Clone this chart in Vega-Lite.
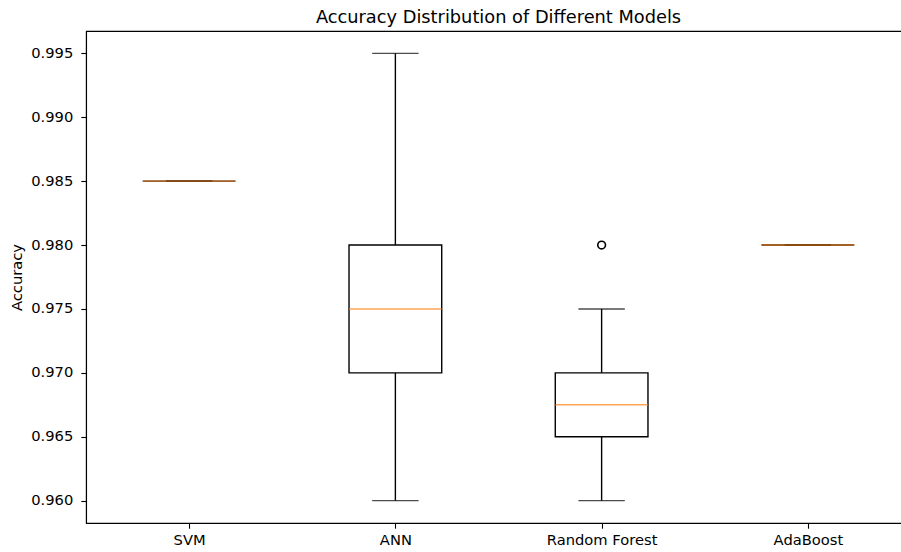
{
  "$schema": "https://vega.github.io/schema/vega-lite/v6.json",
  "autosize": {"type": "none"},
  "padding": {"left": 86, "top": 31, "right": 0, "bottom": 29},
  "width": 825,
  "height": 492,
  "title": {
    "text": "Accuracy Distribution of Different Models",
    "font": "DejaVu Sans",
    "fontSize": 17.8,
    "fontWeight": "normal",
    "color": "#000000",
    "offset": 4.5,
    "anchor": "middle"
  },
  "config": {
    "view": {"stroke": "#000000", "strokeWidth": 1.1},
    "axis": {
      "grid": false,
      "domainColor": "#000000",
      "domainWidth": 1.1,
      "tickColor": "#000000",
      "tickWidth": 1.1,
      "tickSize": 5.2,
      "labelPadding": 8,
      "labelFont": "DejaVu Sans",
      "labelFontSize": 14.7,
      "labelColor": "#000000",
      "titleFont": "DejaVu Sans",
      "titleFontSize": 14.7,
      "titleFontWeight": "normal",
      "titleColor": "#000000"
    }
  },
  "datasets": {
    "stats": [
      {"model": "SVM", "min": 0.985, "q1": 0.985, "median": 0.985, "q3": 0.985, "max": 0.985},
      {"model": "ANN", "min": 0.960, "q1": 0.970, "median": 0.975, "q3": 0.980, "max": 0.995},
      {"model": "Random Forest", "min": 0.960, "q1": 0.965, "median": 0.9675, "q3": 0.970, "max": 0.975},
      {"model": "AdaBoost", "min": 0.980, "q1": 0.980, "median": 0.980, "q3": 0.980, "max": 0.980}
    ],
    "outliers": [
      {"model": "Random Forest", "value": 0.980}
    ]
  },
  "data": {"name": "stats"},
  "encoding": {
    "x": {
      "field": "model",
      "type": "nominal",
      "sort": ["SVM", "ANN", "Random Forest", "AdaBoost"],
      "scale": {"type": "point", "padding": 0.5},
      "axis": {"title": null, "labelAngle": 0, "labelPadding": 4.5}
    }
  },
  "layer": [
    {
      "mark": {"type": "rule", "color": "#000000", "strokeWidth": 1.4},
      "encoding": {
        "y": {
          "field": "max",
          "type": "quantitative",
          "scale": {"domain": [0.95825, 0.99675], "nice": false, "zero": false},
          "axis": {
            "title": "Accuracy",
            "values": [0.960, 0.965, 0.970, 0.975, 0.980, 0.985, 0.990, 0.995],
            "format": ".3f",
            "titlePadding": 6
          }
        },
        "y2": {"field": "q3"}
      }
    },
    {
      "mark": {"type": "rule", "color": "#000000", "strokeWidth": 1.4},
      "encoding": {
        "y": {"field": "q1", "type": "quantitative"},
        "y2": {"field": "min"}
      }
    },
    {
      "mark": {"type": "bar", "size": 92.7, "fill": "#ffffff", "fillOpacity": 0, "stroke": "#000000", "strokeWidth": 1.4},
      "encoding": {
        "y": {"field": "q1", "type": "quantitative"},
        "y2": {"field": "q3"}
      }
    },
    {
      "mark": {"type": "tick", "size": 46.4, "thickness": 1.4, "color": "#000000", "orient": "horizontal"},
      "encoding": {"y": {"field": "max", "type": "quantitative"}}
    },
    {
      "mark": {"type": "tick", "size": 46.4, "thickness": 1.4, "color": "#000000", "orient": "horizontal"},
      "encoding": {"y": {"field": "min", "type": "quantitative"}}
    },
    {
      "mark": {"type": "tick", "size": 92.7, "thickness": 1.4, "color": "#ff7f0e", "orient": "horizontal"},
      "encoding": {"y": {"field": "median", "type": "quantitative"}}
    },
    {
      "data": {"name": "outliers"},
      "mark": {"type": "point", "shape": "circle", "filled": false, "stroke": "#000000", "strokeWidth": 1.6, "size": 60, "opacity": 1},
      "encoding": {"y": {"field": "value", "type": "quantitative"}}
    }
  ]
}
